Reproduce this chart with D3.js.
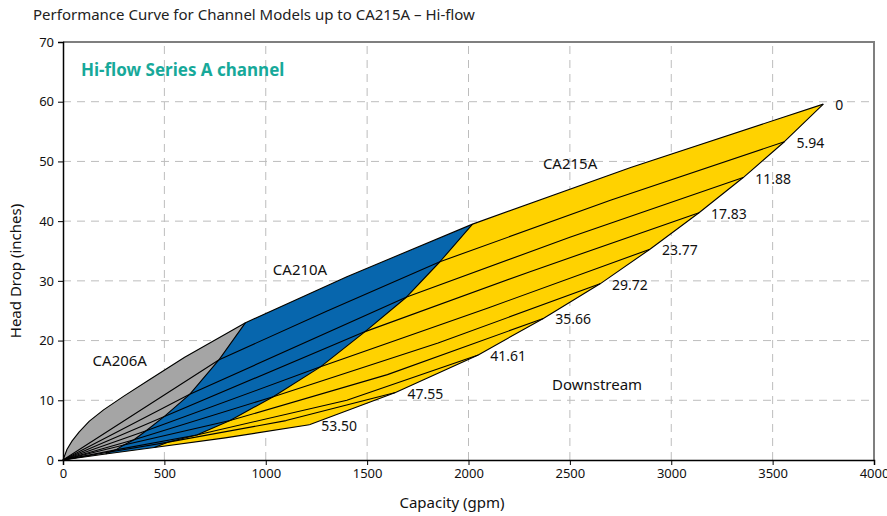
<!DOCTYPE html>
<html>
<head>
<meta charset="utf-8">
<script src="https://cdn.jsdelivr.net/npm/d3@7"></script>
<style>
  body { margin: 0; background: #fff; font-family: "Noto Sans", "Open Sans", sans-serif; }
  .tick text { font-size: 13px; fill: #111; }
  .lbl { font-size: 14px; fill: #111; }
  .big { font-size: 15px; fill: #111; }
</style>
</head>
<body>
<svg id="chart"></svg>
<script>
// downstream depth of each curve (labels at the curve ends)
var downstream = ["0", "5.94", "11.88", "17.83", "23.77", "29.72", "35.66", "41.61", "47.55", "53.50"];

// head drop curves [gpm, inches]
var curve0 = [[0, 0], [20, 1.8], [45, 3.2], [80, 4.7], [130, 6.5], [200, 8.4], [300, 10.7], [420, 13.3], [600, 17.2], [900, 23.0], [1400, 30.7], [2020, 39.5], [2800, 49.0], [3750, 59.6]];
var curve1 = [[0, 0], [770, 16.8], [1300, 24.9], [1859, 33.2], [2700, 43.5], [3558, 53.3]];
var curve2 = [[0, 0], [625, 11.0], [1695, 27.3], [2500, 37.3], [3355, 47.3]];
var curve3 = [[0, 0], [500, 7.3], [1490, 21.5], [2300, 31.5], [3137, 41.4]];
var curve4 = [[0, 0], [410, 4.9], [1270, 15.6], [2100, 25.5], [2895, 35.3]];
var curve5 = [[0, 0], [350, 3.4], [1037, 10.6], [1850, 19.6], [2649, 29.5]];
var curve6 = [[0, 0], [300, 2.5], [824, 6.6], [1600, 14.3], [2369, 23.7]];
var curve7 = [[0, 0], [260, 1.7], [660, 4.2], [1400, 10.0], [2048, 17.6]];
var curve8 = [[0, 0], [230, 1.35], [520, 3.0], [1100, 6.6], [1640, 11.3]];
var curve9 = [[0, 0], [210, 1.0], [450, 2.1], [800, 3.7], [1215, 5.9]];
var curves = [curve0, curve1, curve2, curve3, curve4, curve5, curve6, curve7, curve8, curve9];

// max capacity limits of the smaller models
var limitCA206A = [[900, 23.0], [770, 16.8], [625, 11.0], [500, 7.3], [410, 4.9], [350, 3.4], [300, 2.5], [260, 1.7], [230, 1.35], [210, 1.0]];
var limitCA210A = [[2020, 39.5], [1859, 33.2], [1695, 27.3], [1490, 21.5], [1270, 15.6], [1037, 10.6], [824, 6.6], [660, 4.2], [520, 3.0], [450, 2.1]];

var xTicks = [0, 500, 1000, 1500, 2000, 2500, 3000, 3500, 4000];
var yTicks = [0, 10, 20, 30, 40, 50, 60, 70];

var width = 887, height = 516;
var padding = { top: 42, right: 13, bottom: 56, left: 63 };

var svg = d3.select("#chart")
  .attr("width", width)
  .attr("height", height);

var x = d3.scaleLinear()
  .domain([0, 4000])
  .range([padding.left, width - padding.right]);

var y = d3.scaleLinear()
  .domain([0, 70])
  .range([height - padding.bottom, padding.top]);

var line = d3.line()
  .x(d => x(d[0]))
  .y(d => y(d[1]));

// title
svg.append("text")
  .attr("x", 33)
  .attr("y", 20)
  .style("font-size", "15px")
  .style("fill", "#222")
  .text("Performance Curve for Channel Models up to CA215A \u2013 Hi-flow");

// grid
svg.append("g")
  .selectAll("line")
  .data(xTicks.slice(1, -1))
  .enter()
  .append("line")
    .attr("x1", d => x(d)).attr("x2", d => x(d))
    .attr("y1", y(0)).attr("y2", y(70))
    .attr("stroke", "#bdbdbd")
    .attr("stroke-dasharray", "8,6");

svg.append("g")
  .selectAll("line")
  .data(yTicks.slice(1, -1))
  .enter()
  .append("line")
    .attr("x1", x(0)).attr("x2", x(4000))
    .attr("y1", d => y(d)).attr("y2", d => y(d))
    .attr("stroke", "#bdbdbd")
    .attr("stroke-dasharray", "8,6");

// frame on top and right
svg.append("path")
  .attr("d", "M" + x(0) + "," + y(70) + "H" + x(4000) + "V" + y(0))
  .attr("fill", "none")
  .attr("stroke", "#7f7f7f")
  .attr("stroke-width", 2);

// envelope: top curve, curve ends, bottom curve back to the origin
var ends = curves.map(c => c[c.length - 1]);
var envelope = curve0.concat(ends.slice(1)).concat(curve9.slice().reverse());

svg.append("clipPath")
  .attr("id", "env")
  .append("path")
  .attr("d", line(envelope) + "Z");

svg.append("path")
  .attr("d", line(envelope) + "Z")
  .attr("fill", "#ffd200");

var zones = svg.append("g").attr("clip-path", "url(#env)");

zones.append("path")
  .attr("d", line(curve0.filter(d => d[0] <= 2020).concat(limitCA210A)) + "Z")
  .attr("fill", "#0766ad");

zones.append("path")
  .attr("d", line(curve0.filter(d => d[0] <= 900).concat(limitCA206A)) + "Z")
  .attr("fill", "#a5a5a5");

// curves and limits
svg.append("g")
  .selectAll("path")
  .data(curves.concat([limitCA206A, limitCA210A, ends]))
  .enter()
  .append("path")
    .attr("d", line)
    .attr("fill", "none")
    .attr("stroke", "#000")
    .attr("stroke-width", 1.1)
    .attr("stroke-linejoin", "round");

// end labels
svg.append("g")
  .selectAll("text")
  .data(ends)
  .enter()
  .append("text")
    .classed("lbl", true)
    .attr("x", d => x(d[0]) + 12)
    .attr("y", d => y(d[1]) + 6)
    .text((d, i) => downstream[i]);

// model labels
var notes = [["CA206A", 280, 16.5], ["CA210A", 1169, 31.8], ["CA215A", 2501, 49.6], ["Downstream", 2634, 12.6]];
svg.append("g")
  .selectAll("text")
  .data(notes)
  .enter()
  .append("text")
    .classed("big", true)
    .attr("x", d => x(d[1]))
    .attr("y", d => y(d[2]) + 5)
    .attr("text-anchor", "middle")
    .text(d => d[0]);

svg.append("text")
  .attr("x", 81)
  .attr("y", 76)
  .style("font-size", "17px")
  .style("font-weight", "bold")
  .style("fill", "#17a99a")
  .text("Hi-flow Series A channel");

// axes
svg.append("g")
  .attr("transform", "translate(0," + y(0) + ")")
  .call(d3.axisBottom(x).tickValues(xTicks).tickSize(5).tickPadding(4).tickFormat(d3.format("d")))
  .call(g => g.select(".domain").attr("stroke-width", 1.5));

svg.append("g")
  .attr("transform", "translate(" + x(0) + ",0)")
  .call(d3.axisLeft(y).tickValues(yTicks).tickSize(5).tickPadding(4))
  .call(g => g.select(".domain").attr("stroke-width", 1.5));

svg.selectAll(".tick text").style("font-family", "'Noto Sans', sans-serif");

svg.append("text")
  .classed("big", true)
  .attr("x", 452)
  .attr("y", 508)
  .attr("text-anchor", "middle")
  .text("Capacity (gpm)");

svg.append("text")
  .classed("big", true)
  .attr("transform", "translate(21,271) rotate(-90)")
  .attr("text-anchor", "middle")
  .text("Head Drop (inches)");
</script>
</body>
</html>
